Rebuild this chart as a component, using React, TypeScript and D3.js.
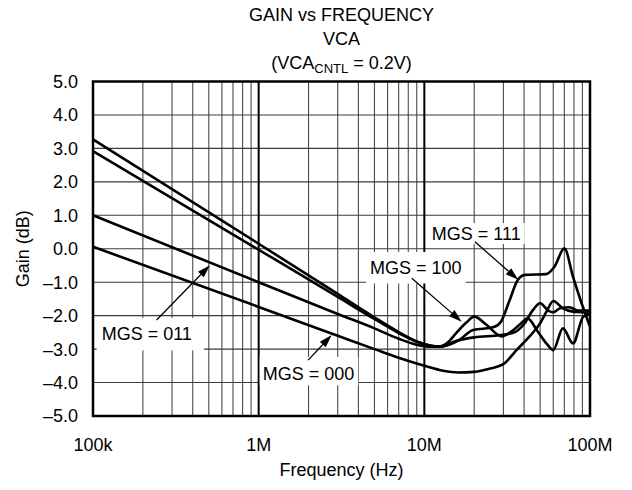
import * as d3 from "d3";
import { useEffect, useRef } from "react";

// [frequency Hz, gain dB]
const MGS_111: [number, number][] = [
  [1e5, 3.27], [1e6, 0.15], [3e6, -1.35], [5e6, -2.05], [7e6, -2.49], [9e6, -2.77],
  [11e6, -2.9], [12.4e6, -2.93], [14e6, -2.88], [16e6, -2.75], [19.7e6, -2.43],
  [26e6, -2.35], [29e6, -2.18], [32.5e6, -1.58], [36.7e6, -0.93], [40.5e6, -0.78],
  [54.5e6, -0.76], [61e6, -0.54], [70e6, 0.01], [79e6, -0.84], [89e6, -1.63], [1e8, -2.33],
];
const MGS_100: [number, number][] = [
  [1e5, 2.92], [1e6, -0.03], [3e6, -1.44], [5e6, -2.1], [7e6, -2.52], [9e6, -2.78],
  [11e6, -2.9], [12.4e6, -2.92], [14e6, -2.78], [15.7e6, -2.5], [18e6, -2.2], [20e6, -2.03],
  [23.8e6, -2.28], [29.3e6, -2.62], [33e6, -2.5], [38e6, -2.25], [42e6, -2.08], [48e6, -2.45],
  [55e6, -2.85], [60e6, -3.03], [68.6e6, -2.38], [79e6, -2.83], [91e6, -2.03], [1e8, -1.95],
];
const MGS_011: [number, number][] = [
  [1e5, 1.0], [1e6, -1.0], [3e6, -1.95], [5e6, -2.38], [7e6, -2.69], [9e6, -2.87],
  [11e6, -2.93], [12.4e6, -2.93], [15.7e6, -2.75], [20e6, -2.65], [29e6, -2.58], [35e6, -2.5],
  [40e6, -2.25], [45e6, -1.85], [50e6, -1.63], [56e6, -1.85], [60e6, -1.9], [66e6, -1.78],
  [75e6, -1.75], [85e6, -1.85], [1e8, -1.85],
];
const MGS_000: [number, number][] = [
  [1e5, 0.06], [1e6, -1.74], [3e6, -2.6], [5e6, -3.0], [7e6, -3.26], [10e6, -3.5],
  [13e6, -3.65], [16e6, -3.7], [20e6, -3.68], [25e6, -3.58], [30e6, -3.45], [36e6, -3.03],
  [43e6, -2.63], [50e6, -2.23], [55e6, -1.85], [60e6, -1.56], [68.6e6, -1.78], [79e6, -1.88],
  [90e6, -1.9], [1e8, -1.95],
];

const SERIES = [MGS_111, MGS_100, MGS_011, MGS_000];

const X_TICKS = [1e5, 1e6, 1e7, 1e8];
const X_TICK_LABELS = ["100k", "1M", "10M", "100M"];
const Y_TICKS = [5, 4, 3, 2, 1, 0, -1, -2, -3, -4, -5];

// label text, text anchor [f, g], arrow from [f, g], arrow to [f, g]
const LABELS = [
  { text: "MGS = 111", at: [11.1e6, 0.26], from: [20.2e6, 0.21], to: [36.9e6, -0.93] },
  { text: "MGS = 100", at: [4.7e6, -0.755], from: [8.4e6, -0.88], to: [16.8e6, -2.18] },
  { text: "MGS = 011", at: [1.128e5, -2.74], from: [2.42e5, -2.13], to: [5.08e5, -0.49] },
  { text: "MGS = 000", at: [1.058e6, -3.92], from: [1.99e6, -3.33], to: [2.76e6, -2.58] },
];

const W = 632;
const H = 490;
const M = { left: 93, right: 590, top: 81.5, bottom: 416 };
const FONT = "'Liberation Sans', Arial, Helvetica, sans-serif";

export default function App() {
  const svgRef = useRef<SVGSVGElement>(null);

  useEffect(() => {
    if (!svgRef.current) return;
    const svg = d3.select(svgRef.current);
    svg.selectAll("*").remove();

    const x = d3.scaleLog().domain([1e5, 1e8]).range([M.left, M.right]);
    const y = d3.scaleLinear().domain([-5, 5]).range([M.bottom, M.top]);

    svg.append("rect").attr("width", W).attr("height", H).attr("fill", "#fff");

    // minor vertical grid
    const minors: number[] = [];
    for (let d = 1e5; d < 1e8; d *= 10) for (let k = 2; k <= 9; k++) minors.push(d * k);
    svg.append("g")
      .selectAll("line")
      .data(minors)
      .join("line")
      .attr("x1", (d) => x(d)).attr("x2", (d) => x(d))
      .attr("y1", M.top).attr("y2", M.bottom)
      .attr("stroke", "#4a4a4a").attr("stroke-width", 1.1);

    // horizontal grid
    svg.append("g")
      .selectAll("line")
      .data(Y_TICKS.slice(1, -1))
      .join("line")
      .attr("x1", M.left).attr("x2", M.right)
      .attr("y1", (d) => y(d)).attr("y2", (d) => y(d))
      .attr("stroke", "#3a3a3a").attr("stroke-width", 1.1);

    // decade lines
    svg.append("g")
      .selectAll("line")
      .data(X_TICKS.slice(1, -1))
      .join("line")
      .attr("x1", (d) => x(d)).attr("x2", (d) => x(d))
      .attr("y1", M.top).attr("y2", M.bottom)
      .attr("stroke", "#000").attr("stroke-width", 2);

    svg.append("rect")
      .attr("x", M.left).attr("y", M.top)
      .attr("width", M.right - M.left).attr("height", M.bottom - M.top)
      .attr("fill", "none").attr("stroke", "#000").attr("stroke-width", 2.5);

    // curves
    const line = d3.line<[number, number]>()
      .x((d) => x(d[0]))
      .y((d) => y(d[1]))
      .curve(d3.curveMonotoneX);
    svg.append("g")
      .selectAll("path")
      .data(SERIES)
      .join("path")
      .attr("d", (d) => line(d) || "")
      .attr("fill", "none")
      .attr("stroke", "#000")
      .attr("stroke-width", 2.6)
      .attr("stroke-linejoin", "round");

    // labels with white boxes and arrows
    const pads = [
      { l: 3, r: 4, t: 17, b: 4 },
      { l: 4, r: 4, t: 22, b: 9.5 },
      { l: 5, r: 12, t: 22.5, b: 10 },
      { l: 3, r: 4, t: 23, b: 5.5 },
    ];
    LABELS.forEach((lb, i) => {
      const g = svg.append("g");
      const tx = x(lb.at[0]);
      const ty = y(lb.at[1]);
      const rect = g.append("rect").attr("fill", "#fff");
      const t = g.append("text")
        .attr("x", tx).attr("y", ty)
        .attr("font-family", FONT).attr("font-size", 18)
        .attr("fill", "#000")
        .text(lb.text);
      const bb = (t.node() as SVGTextElement).getBBox();
      const p = pads[i];
      rect.attr("x", bb.x - p.l).attr("y", ty - p.t)
        .attr("width", bb.width + p.l + p.r).attr("height", p.t + p.b);

      const x1 = x(lb.from[0]);
      const y1 = y(lb.from[1]);
      const x2 = x(lb.to[0]);
      const y2 = y(lb.to[1]);
      const ang = Math.atan2(y2 - y1, x2 - x1);
      const len = 13;
      const hw = 4;
      const bx = x2 - len * Math.cos(ang);
      const by = y2 - len * Math.sin(ang);
      g.append("line")
        .attr("x1", x1).attr("y1", y1).attr("x2", bx).attr("y2", by)
        .attr("stroke", "#000").attr("stroke-width", 1.3);
      g.append("path")
        .attr("d", `M${x2},${y2}L${bx - hw * Math.sin(ang)},${by + hw * Math.cos(ang)}L${bx + hw * Math.sin(ang)},${by - hw * Math.cos(ang)}Z`)
        .attr("fill", "#000");
    });

    // y tick labels
    svg.append("g")
      .selectAll("text")
      .data(Y_TICKS)
      .join("text")
      .attr("x", M.left - 15)
      .attr("y", (d) => y(d))
      .attr("dy", "0.36em")
      .attr("text-anchor", "end")
      .attr("font-family", FONT).attr("font-size", 18)
      .text((d) => (d < 0 ? "\u2013" + Math.abs(d).toFixed(1) : d.toFixed(1)));

    // x tick labels
    svg.append("g")
      .selectAll("text")
      .data(X_TICKS)
      .join("text")
      .attr("x", (d) => x(d))
      .attr("y", 451)
      .attr("text-anchor", "middle")
      .attr("font-family", FONT).attr("font-size", 18)
      .text((_, i) => X_TICK_LABELS[i]);

    const cx = (M.left + M.right) / 2;
    svg.append("text")
      .attr("x", cx).attr("y", 476)
      .attr("text-anchor", "middle")
      .attr("font-family", FONT).attr("font-size", 18)
      .text("Frequency (Hz)");

    svg.append("text")
      .attr("transform", `translate(29,${(M.top + M.bottom) / 2}) rotate(-90)`)
      .attr("text-anchor", "middle")
      .attr("font-family", FONT).attr("font-size", 18)
      .text("Gain (dB)");

    // title
    const title = svg.append("g")
      .attr("font-family", FONT).attr("font-size", 18)
      .attr("text-anchor", "middle");
    title.append("text").attr("x", cx).attr("y", 21).text("GAIN vs FREQUENCY");
    title.append("text").attr("x", cx).attr("y", 45).text("VCA");
    const t3 = title.append("text").attr("x", cx).attr("y", 69);
    t3.append("tspan").text("(VCA");
    t3.append("tspan").attr("font-size", 13).attr("dy", 4).text("CNTL");
    t3.append("tspan").attr("dy", -4).text(" = 0.2V)");
  }, []);

  return (
    <svg
      ref={svgRef}
      width={W}
      height={H}
      style={{ position: "absolute", left: 0, top: 0 }}
    />
  );
}
